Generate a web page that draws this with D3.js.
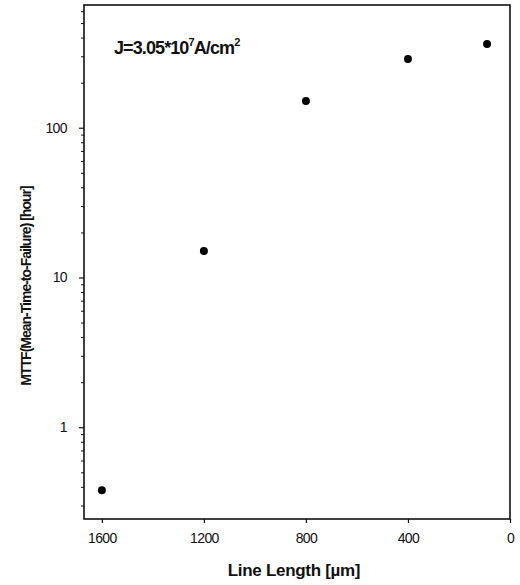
<!DOCTYPE html>
<html>
<head>
<meta charset="utf-8">
<script src="https://cdn.jsdelivr.net/npm/d3@7"></script>
<style>
  body { margin: 0; background: #fff; }
  svg { display: block; }
  text { font-family: "Liberation Sans", Arial, sans-serif; fill: #111; }
</style>
</head>
<body>
<svg id="chart" width="520" height="585"></svg>
<script>
// Data
const lineLength = [1600, 1200, 800, 400, 90];      // µm
const mttf       = [0.38, 15, 151, 288, 363];       // hours
const xTicks     = [1600, 1200, 800, 400, 0];
const yTicks     = [1, 10, 100];
const xTitle     = "Line Length  [\u00b5m]";
const yTitle     = "MTTF(Mean-Time-to-Failure) [hour]";

const svg = d3.select("#chart");
const mL = 84, mR = 510, mT = 5, mB = 519;

const x = d3.scaleLinear().domain([1670, 0]).range([mL, mR]);
const y = d3.scaleLog().domain([0.244, 660]).range([mB, mT]);

// frame
svg.append("rect")
  .attr("x", mL).attr("y", mT)
  .attr("width", mR - mL).attr("height", mB - mT)
  .attr("fill", "none").attr("stroke", "#111").attr("stroke-width", 1.6);

// x axis
const xAxis = d3.axisBottom(x).tickValues(xTicks).tickSize(4).tickPadding(10)
  .tickFormat(d3.format("d"));
const gx = svg.append("g").attr("transform", `translate(0,${mB})`).call(xAxis);
gx.select(".domain").remove();
gx.selectAll("line").attr("stroke", "#111").attr("stroke-width", 1.2);
gx.selectAll("text").style("font-size", "14px").style("font-family", "'Liberation Sans', Arial, sans-serif")
  .attr("fill", "#111").attr("letter-spacing", "-0.6");

// y axis: majors and minors
const minors = [];
for (let e = -1; e <= 2; e++) for (let k = 2; k <= 9; k++) {
  const v = k * Math.pow(10, e);
  if (v > 0.244 && v < 660) minors.push(v);
}
const gyMinor = svg.append("g").attr("transform", `translate(${mL},0)`)
  .call(d3.axisLeft(y).tickValues(minors).tickSize(3).tickFormat(""));
gyMinor.select(".domain").remove();
gyMinor.selectAll("line").attr("stroke", "#111").attr("stroke-width", 1);

const gy = svg.append("g").attr("transform", `translate(${mL},0)`)
  .call(d3.axisLeft(y).tickValues(yTicks).tickSize(5).tickPadding(12).tickFormat(d3.format("d")));
gy.select(".domain").remove();
gy.selectAll("line").attr("stroke", "#111").attr("stroke-width", 1.2);
gy.selectAll("text").style("font-size", "14px").style("font-family", "'Liberation Sans', Arial, sans-serif")
  .attr("fill", "#111").attr("letter-spacing", "-0.6");

// points
svg.append("g").selectAll("circle")
  .data(lineLength.map((d, i) => ({ x: d, y: mttf[i] })))
  .join("circle")
  .attr("cx", d => x(d.x)).attr("cy", d => y(d.y))
  .attr("r", 4).attr("fill", "#000");

// titles
svg.append("text")
  .attr("x", 294).attr("y", 576).attr("text-anchor", "middle")
  .style("font-size", "17px").style("font-weight", "bold").attr("letter-spacing", "-0.3")
  .text(xTitle);

svg.append("text")
  .attr("transform", "translate(31,286) rotate(-90)").attr("text-anchor", "middle")
  .style("font-size", "14px").style("font-weight", "bold").attr("letter-spacing", "-1")
  .text(yTitle);

// annotation
const ann = svg.append("text").attr("x", 114).attr("y", 54)
  .style("font-size", "18px").style("font-weight", "bold").attr("letter-spacing", "-0.9");
ann.append("tspan").text("J=3.05*10");
ann.append("tspan").attr("dy", -8).style("font-size", "11px").text("7");
ann.append("tspan").attr("dy", 8).text("A/cm");
ann.append("tspan").attr("dy", -8).style("font-size", "11px").text("2");
</script>
</body>
</html>
